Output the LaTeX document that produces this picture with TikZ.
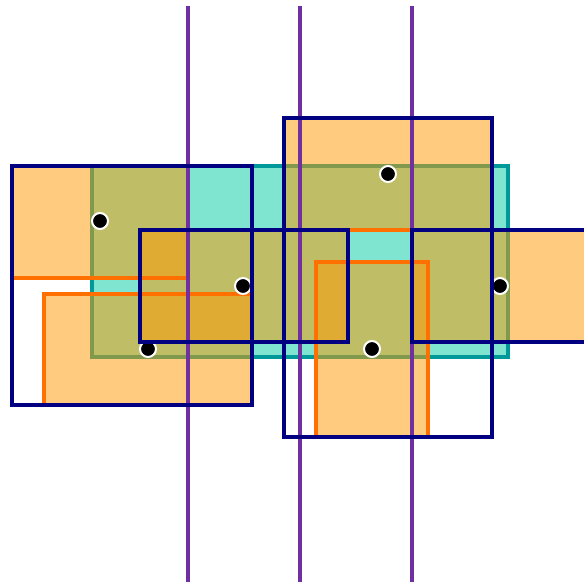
\documentclass[tikz,border=0pt]{standalone}
\usepackage{tikz}
\usepackage{xcolor}
\definecolor{boxNavy}{RGB}{0,0,128}
\definecolor{cutOrange}{RGB}{255,153,0}
\definecolor{cutEdge}{RGB}{255,112,0}
\definecolor{tealFill}{RGB}{128,229,208}
\definecolor{tealEdge}{RGB}{0,153,153}
\definecolor{sweepPurple}{RGB}{112,48,160}
\tikzset{
  navybox/.style   = {draw=boxNavy, line width=4pt},
  cutfill/.style   = {fill=cutOrange, fill opacity=0.5},
  cutedge/.style   = {draw=cutEdge, line width=4pt},
  tealbox/.style   = {fill=tealFill, draw=tealEdge, line width=4pt},
  sweepline/.style = {draw=sweepPurple, line width=4pt},
  hit/.style       = {circle, fill=black, draw=white, line width=2pt,
                      minimum size=16pt, inner sep=0pt}
}

\begin{document}
\begin{tikzpicture}[x=1pt, y=-1pt]
        \useasboundingbox (0,0) rectangle (584,583);
        \clip (0,0) rectangle (584,583);
        % query region
        \draw[tealbox] (92,166) rectangle (508,357);
        % clipped pieces
        \foreach \a/\b/\c/\d in {12/166/188/278, 44/294/252/405, 140/230/348/342,
                                 284/118/492/230, 316/262/428/437, 412/230/600/342}
          \fill[cutfill] (\a,\b) rectangle (\c,\d);
        \foreach \a/\b/\c/\d in {12/166/188/278, 44/294/252/405, 140/230/348/342,
                                 284/118/492/230, 316/262/428/437, 412/230/600/342}
          \draw[cutedge] (\a,\b) rectangle (\c,\d);
        % points
        \node[hit] (h1) at (100,221) {};
        \node[hit] (h2) at (243,286) {};
        \node[hit] (h3) at (148,349) {};
        \node[hit] (h4) at (388,174) {};
        \node[hit] (h5) at (500,286) {};
        \node[hit] (h6) at (372,349) {};
        % sweep lines
        \foreach \x in {188,300,412}
          \draw[sweepline] (\x,6) -- (\x,582);
        % boxes
        \draw[navybox] (12,166) rectangle (252,405);
        \draw[navybox] (140,230) rectangle (348,342);
        \draw[navybox] (284,118) rectangle (492,437);
        \draw[navybox] (412,230) rectangle (600,342);
      \end{tikzpicture}
\end{document}
